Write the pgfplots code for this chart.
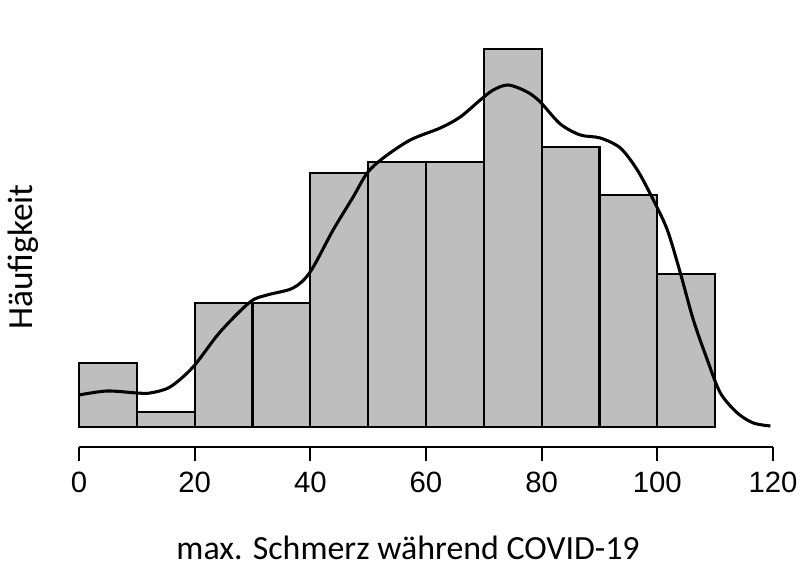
\documentclass[border=0pt]{standalone}
\usepackage{fontspec}
\setmainfont{Carlito}
\newfontfamily\arial{Liberation Sans}
\usepackage{pgfplots}
\pgfplotsset{compat=1.18}
\definecolor{bargray}{HTML}{BEBEBE}
\begin{document}
\begin{tikzpicture}
\useasboundingbox (-59.25pt,-92.25pt) rectangle (543pt,335.25pt);
\begin{axis}[
  at={(0,0)}, anchor=south west,
  scale only axis,
  width=520.5pt, height=300pt,
  xmin=0, xmax=120, ymin=-20, ymax=380,
  clip=false,
  axis x line=bottom,
  axis y line=none,
  x axis line style={-, line width=1.1pt},
  xtick={0,20,40,60,80,100,120},
  xticklabels={0,20,40,60,80,100,120},
  tick align=outside,
  major tick length=10.5pt,
  xtick style={line width=1.4pt, black},
  xticklabel style={font=\arial\fontsize{22}{22}\selectfont, anchor=north, yshift=-4.5pt},
]
\addplot[ybar interval, fill=bargray, draw=black, line width=1.6pt]
  coordinates {(0,64) (10,15) (20,124) (30,124) (40,254) (50,265) (60,265) (70,378) (80,280) (90,232) (100,153) (110,153)};
\addplot[smooth, line width=2.3pt, black] coordinates {
(0,32) (4.84,36) (10.03,34) (12.28,34) (15.74,40) (19.72,60) (24.39,95) (29.58,125)
(32.53,132) (37.02,139) (39.97,155) (43.94,197) (47.40,230) (49.83,254) (52.60,269)
(57.27,287) (62.46,299) (65.92,310) (69.38,327) (71.63,337) (74.22,342) (77.51,335)
(79.76,325) (83.22,303) (86.68,292) (90.14,289) (93.60,279) (96.54,257) (99.31,227)
(101.73,197) (103.98,154) (106.23,107) (108.65,67) (110.90,34) (113.84,14) (116.61,4) (119.55,1)
};
\node[rotate=90, anchor=base, font=\fontsize{26.5}{26.5}\selectfont, inner sep=0pt] at (axis cs:-7.96,170) {Häufigkeit};
\node[anchor=base, font=\fontsize{25.4}{25.4}\selectfont, inner sep=0pt] at (axis cs:56.9,-133) {max. Schmerz während COVID-19};
\end{axis}
\end{tikzpicture}
\end{document}
